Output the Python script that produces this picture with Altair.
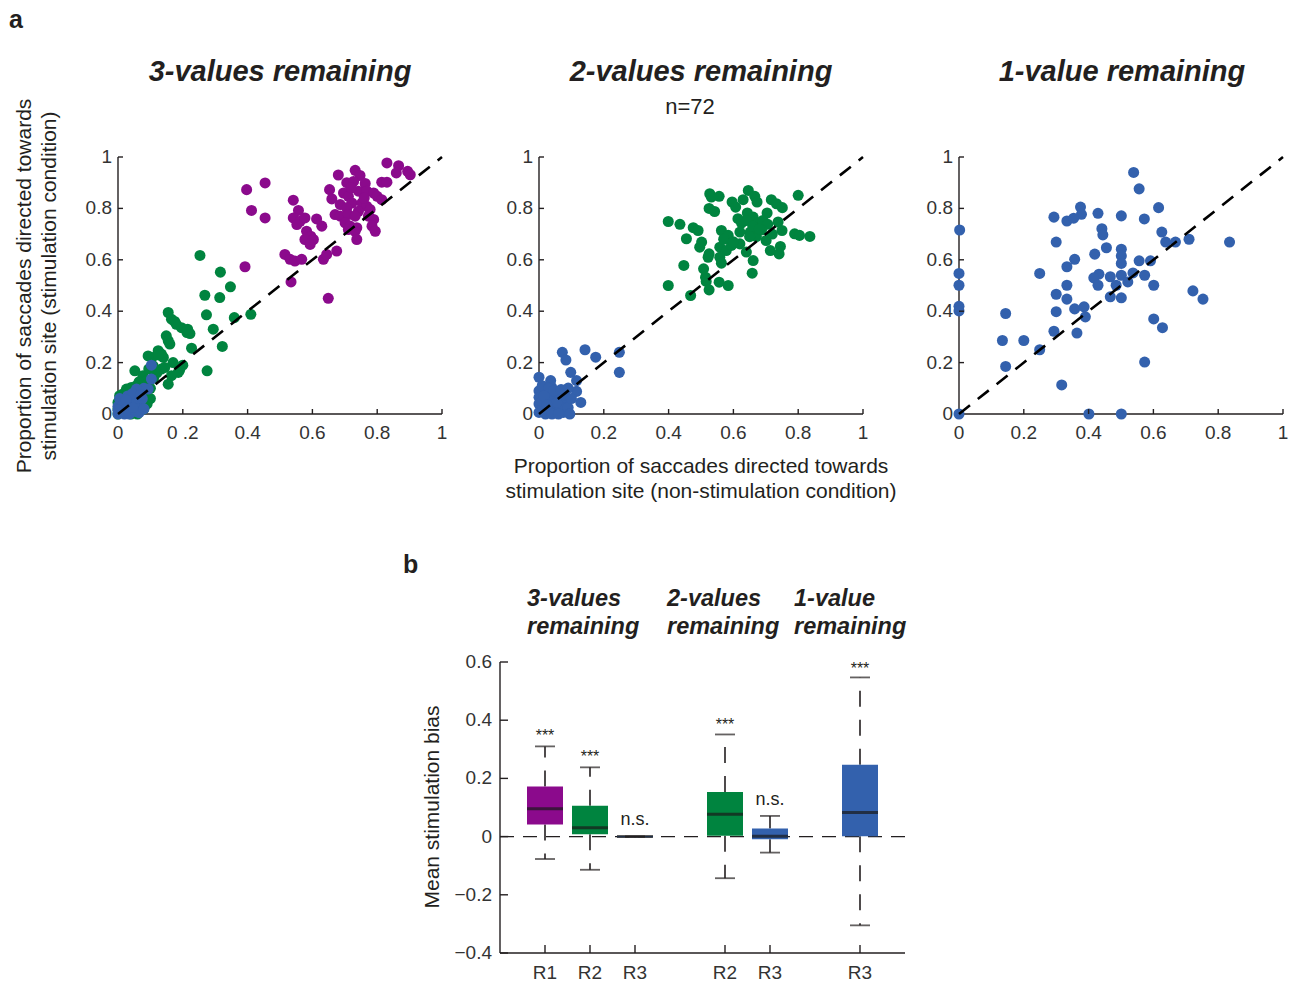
import altair as alt
import pandas as pd

FONT = "Liberation Sans"
INK = "#231F20"
LABEL = "#333333"
PURPLE = "#8B0A8C"
GREEN = "#00843F"
BLUE = "#3361AD"
W, H = 1295, 982

# ---------------- panel a data (non-stim x, stim y) ----------------
p1_purple_x = [0.830, 0.866, 0.859, 0.894, 0.902, 0.732, 0.680, 0.747, 0.706, 0.727, 0.763, 0.814, 0.830, 0.653, 0.660,
               0.696, 0.711, 0.742, 0.768, 0.789, 0.800, 0.814, 0.722, 0.753, 0.686, 0.706, 0.768, 0.742, 0.670, 0.686,
               0.711, 0.732, 0.778, 0.773, 0.789, 0.784, 0.794, 0.701, 0.716, 0.737, 0.711, 0.732, 0.737, 0.675, 0.629,
               0.613, 0.541, 0.557, 0.541, 0.562, 0.577, 0.552, 0.582, 0.595, 0.577, 0.603, 0.593, 0.515, 0.531, 0.546,
               0.567, 0.634, 0.644, 0.534, 0.649, 0.392, 0.412, 0.397, 0.454, 0.454, 0.720, 0.760]
p1_purple_y = [0.977, 0.966, 0.938, 0.944, 0.931, 0.948, 0.930, 0.928, 0.900, 0.905, 0.897, 0.902, 0.902, 0.873, 0.837,
               0.860, 0.847, 0.867, 0.867, 0.860, 0.847, 0.834, 0.821, 0.821, 0.815, 0.802, 0.808, 0.789, 0.776, 0.770,
               0.776, 0.770, 0.796, 0.770, 0.757, 0.731, 0.711, 0.744, 0.731, 0.725, 0.718, 0.711, 0.679, 0.634, 0.731,
               0.759, 0.832, 0.792, 0.763, 0.750, 0.763, 0.737, 0.711, 0.692, 0.679, 0.679, 0.660, 0.621, 0.602, 0.595,
               0.602, 0.602, 0.621, 0.514, 0.450, 0.573, 0.792, 0.873, 0.899, 0.763, 0.880, 0.840]

p1_green_x = [0.253, 0.316, 0.347, 0.268, 0.314, 0.273, 0.359, 0.410, 0.294, 0.322, 0.275, 0.155, 0.165, 0.180, 0.196,
              0.213, 0.222, 0.149, 0.155, 0.160, 0.227, 0.093, 0.124, 0.134, 0.170, 0.144, 0.186, 0.165, 0.134, 0.155,
              0.052, 0.077, 0.108, 0.041, 0.026, 0.015, 0.057, 0.005, 0.036, 0.067, 0.077, 0.090, 0.085, 0.100, 0.060,
              0.020, 0.000, 0.010, 0.030, 0.050, 0.070, 0.080, 0.060, 0.000, 0.020, 0.045, 0.110, 0.120, 0.095, 0.200,
              0.190, 0.030, 0.065, 0.140, 0.175, 0.215, 0.105, 0.125, 0.000, 0.040, 0.090, 0.100]
p1_green_y = [0.617, 0.552, 0.495, 0.462, 0.453, 0.386, 0.375, 0.388, 0.330, 0.263, 0.168, 0.395, 0.369, 0.349, 0.336,
              0.317, 0.313, 0.304, 0.285, 0.272, 0.256, 0.226, 0.246, 0.233, 0.200, 0.181, 0.162, 0.149, 0.175, 0.116,
              0.168, 0.149, 0.188, 0.103, 0.097, 0.078, 0.110, 0.071, 0.065, 0.071, 0.116, 0.130, 0.090, 0.100, 0.085,
              0.055, 0.045, 0.020, 0.010, 0.030, 0.040, 0.020, 0.000, 0.000, 0.030, 0.050, 0.140, 0.160, 0.175, 0.190,
              0.170, 0.085, 0.125, 0.220, 0.360, 0.330, 0.220, 0.230, 0.020, 0.000, 0.040, 0.060]

p1_blue_x = [0.103, 0.103, 0.093, 0.080, 0.065, 0.057, 0.050, 0.040, 0.030, 0.020, 0.010, 0.000, 0.000, 0.020, 0.040,
             0.060, 0.070, 0.050, 0.030, 0.010, 0.015, 0.065, 0.030, 0.060, 0.045, 0.025, 0.005, 0.035, 0.055, 0.075,
             0.080, 0.070, 0.015, 0.045, 0.000, 0.025]
p1_blue_y = [0.190, 0.136, 0.097, 0.100, 0.090, 0.097, 0.070, 0.060, 0.050, 0.040, 0.020, 0.000, 0.030, 0.000, 0.010,
             0.020, 0.030, 0.040, 0.030, 0.050, 0.010, 0.005, 0.070, 0.060, 0.080, 0.020, 0.060, 0.000, 0.010, 0.060,
             0.020, 0.075, 0.035, 0.025, 0.015, 0.055]

p2_green_x = [0.527, 0.532, 0.556, 0.525, 0.542, 0.646, 0.666, 0.673, 0.630, 0.596, 0.607, 0.800, 0.717, 0.733, 0.751,
              0.643, 0.661, 0.704, 0.614, 0.625, 0.640, 0.676, 0.691, 0.706, 0.738, 0.750, 0.399, 0.435, 0.476, 0.491,
              0.455, 0.502, 0.496, 0.525, 0.522, 0.563, 0.584, 0.558, 0.578, 0.594, 0.620, 0.620, 0.558, 0.563, 0.640,
              0.661, 0.652, 0.671, 0.687, 0.701, 0.714, 0.741, 0.745, 0.789, 0.804, 0.836, 0.447, 0.508, 0.514, 0.516,
              0.525, 0.399, 0.468, 0.556, 0.584, 0.658, 0.660, 0.680, 0.570, 0.600, 0.650, 0.720]
p2_green_y = [0.857, 0.844, 0.847, 0.800, 0.788, 0.870, 0.847, 0.825, 0.834, 0.825, 0.805, 0.851, 0.834, 0.818, 0.803,
              0.782, 0.766, 0.782, 0.760, 0.743, 0.753, 0.743, 0.753, 0.738, 0.747, 0.714, 0.749, 0.738, 0.725, 0.714,
              0.682, 0.669, 0.649, 0.623, 0.610, 0.714, 0.695, 0.649, 0.636, 0.656, 0.662, 0.708, 0.610, 0.587, 0.630,
              0.597, 0.708, 0.690, 0.717, 0.675, 0.636, 0.623, 0.652, 0.701, 0.695, 0.691, 0.578, 0.565, 0.532, 0.516,
              0.483, 0.500, 0.461, 0.513, 0.500, 0.548, 0.730, 0.720, 0.680, 0.670, 0.690, 0.700]

p2_blue_x = [0.072, 0.083, 0.142, 0.175, 0.248, 0.248, 0.098, 0.116, 0.116, 0.090, 0.129, 0.000, 0.036, 0.039, 0.000,
             0.000, 0.000, 0.000, 0.018, 0.024, 0.034, 0.044, 0.055, 0.075, 0.085, 0.070, 0.060, 0.013, 0.028, 0.048,
             0.065, 0.090, 0.010, 0.020, 0.040, 0.080, 0.100, 0.055, 0.030, 0.008, 0.045, 0.068, 0.015, 0.025, 0.095,
             0.060]
p2_blue_y = [0.240, 0.210, 0.250, 0.221, 0.240, 0.162, 0.162, 0.130, 0.088, 0.101, 0.045, 0.143, 0.130, 0.104, 0.090,
             0.065, 0.039, 0.006, 0.085, 0.060, 0.039, 0.019, 0.006, 0.006, 0.050, 0.058, 0.074, 0.026, 0.013, 0.065,
             0.030, 0.025, 0.110, 0.000, 0.000, 0.075, 0.060, 0.045, 0.100, 0.050, 0.090, 0.095, 0.070, 0.035, 0.000,
             0.000]

p3_blue_x = [0.539, 0.556, 0.616, 0.375, 0.378, 0.429, 0.501, 0.293, 0.333, 0.354, 0.572, 0.002, 0.441, 0.444, 0.626,
             0.638, 0.668, 0.710, 0.835, 0.300, 0.455, 0.501, 0.501, 0.501, 0.419, 0.357, 0.556, 0.591, 0.333, 0.249,
             0.000, 0.432, 0.416, 0.429, 0.467, 0.501, 0.537, 0.573, 0.485, 0.521, 0.601, 0.000, 0.333, 0.300, 0.333,
             0.467, 0.501, 0.722, 0.753, 0.000, 0.000, 0.357, 0.386, 0.300, 0.390, 0.144, 0.601, 0.628, 0.293, 0.364,
             0.134, 0.200, 0.249, 0.144, 0.573, 0.317, 0.000, 0.401, 0.501]
p3_blue_y = [0.940, 0.876, 0.803, 0.805, 0.777, 0.781, 0.771, 0.766, 0.751, 0.762, 0.759, 0.716, 0.721, 0.697, 0.708,
             0.669, 0.669, 0.680, 0.669, 0.669, 0.647, 0.641, 0.615, 0.586, 0.622, 0.602, 0.596, 0.596, 0.573, 0.547,
             0.547, 0.544, 0.530, 0.501, 0.534, 0.540, 0.549, 0.540, 0.501, 0.514, 0.501, 0.501, 0.501, 0.466, 0.447,
             0.456, 0.452, 0.479, 0.447, 0.419, 0.401, 0.409, 0.417, 0.398, 0.378, 0.391, 0.370, 0.336, 0.322, 0.315,
             0.286, 0.286, 0.250, 0.185, 0.202, 0.113, 0.000, 0.000, 0.000]

unity = [0.0, 1.0]
tick_vals = [0, 0.2, 0.4, 0.6, 0.8, 1]
tick_text = ["0", "0.2", "0.4", "0.6", "0.8", "1"]
tick_text_p1x = ["0", "0 .2", "0.4", "0.6", "0.8", "1"]

# ---------------- panel b data ----------------
slot_order = ["3v R1", "3v R2", "3v R3", "gap 1", "2v R2", "2v R3", "gap 2", "1v R3"]
box_keys = ["3v R1", "3v R2", "3v R3", "2v R2", "2v R3", "1v R3"]
box_labels = ["R1", "R2", "R3", "R2", "R3", "R3"]
box_region = ["R1", "R2", "R3", "R2", "R3", "R3"]
box_q1 = [0.042, 0.008, -0.002, 0.003, -0.009, 0.001]
box_q3 = [0.172, 0.106, 0.002, 0.153, 0.028, 0.247]
box_med = [0.096, 0.030, 0.000, 0.077, 0.001, 0.083]
box_lo = [-0.077, -0.114, 0.000, -0.143, -0.055, -0.305]
box_hi = [0.310, 0.238, 0.000, 0.351, 0.071, 0.547]
star_keys = ["3v R1", "3v R2", "2v R2", "1v R3"]
star_y = [0.360, 0.287, 0.397, 0.590]
ns_keys = ["3v R3", "2v R3"]
ns_y = [0.058, 0.127]
bias_ticks = [-0.4, -0.2, 0, 0.2, 0.4, 0.6]
bias_text = ["\u22120.4", "\u22120.2", "0", "0.2", "0.4", "0.6"]

# ---------------- geometry ----------------
Y_BOT, Y_TOP = 414, 157
PANEL_X = [(118, 442), (539, 863), (959, 1283)]
BX0, BX1, BY_BOT, BY_TOP = 500, 905, 953, 662
AX_W = 1.4
TICK_FS = 19


def scatter_panel(series, xr, xlabels):
    xs = alt.Scale(domain=[0, 1], range=list(xr), nice=False, zero=False)
    ys = alt.Scale(domain=[0, 1], range=[Y_BOT, Y_TOP], nice=False, zero=False)
    layers = []
    # axis lines
    layers.append(alt.Chart(pd.DataFrame({"a": [0.0], "b": [1.0]})).mark_rule(
        color=INK, strokeWidth=AX_W).encode(
        x=alt.X("a:Q", scale=xs, axis=None), x2="b:Q", y=alt.Y("a:Q", scale=ys, axis=None)))
    layers.append(alt.Chart(pd.DataFrame({"a": [0.0], "b": [1.0]})).mark_rule(
        color=INK, strokeWidth=AX_W).encode(
        y=alt.Y("a:Q", scale=ys, axis=None), y2="b:Q", x=alt.X("a:Q", scale=xs, axis=None)))
    for sx, sy, col in series:
        df = pd.DataFrame({"x": sx, "y": sy})
        layers.append(alt.Chart(df).mark_circle(size=122, opacity=1, color=col).encode(
            x=alt.X("x:Q", scale=xs, axis=None), y=alt.Y("y:Q", scale=ys, axis=None)))
    layers.append(alt.Chart(pd.DataFrame({"x": unity, "y": unity})).mark_line(
        color="black", strokeWidth=2.6, strokeDash=[14, 10]).encode(
        x=alt.X("x:Q", scale=xs, axis=None), y=alt.Y("y:Q", scale=ys, axis=None)))
    tdf = pd.DataFrame({"v": tick_vals[1:]})
    layers.append(alt.Chart(tdf).mark_rule(color=INK, strokeWidth=AX_W).encode(
        x=alt.X("v:Q", scale=xs, axis=None), y=alt.value(Y_BOT), y2=alt.value(Y_BOT - 5)))
    layers.append(alt.Chart(tdf).mark_rule(color=INK, strokeWidth=AX_W).encode(
        y=alt.Y("v:Q", scale=ys, axis=None), x=alt.value(xr[0]), x2=alt.value(xr[0] + 5)))
    # tick labels
    layers.append(alt.Chart(pd.DataFrame({"v": tick_vals, "t": xlabels})).mark_text(
        font=FONT, fontSize=TICK_FS, color=LABEL, baseline="top", dy=10).encode(
        x=alt.X("v:Q", scale=xs, axis=None), y=alt.value(Y_BOT), text="t:N"))
    layers.append(alt.Chart(pd.DataFrame({"v": tick_vals, "t": tick_text})).mark_text(
        font=FONT, fontSize=TICK_FS, color=LABEL, baseline="middle", align="right", dx=-6).encode(
        y=alt.Y("v:Q", scale=ys, axis=None), x=alt.value(xr[0]), text="t:N"))
    return alt.layer(*layers)


def text_mark(text, x, y, size, weight="normal", style="normal", align="center",
              baseline="alphabetic", line_height=None, angle=None, color=INK):
    kw = dict(font=FONT, fontSize=size, fontWeight=weight, fontStyle=style, align=align,
              baseline=baseline, color=color)
    if angle is not None:
        kw["angle"] = angle
    if "\n" in text:
        kw["lineBreak"] = "\n"
        kw["lineHeight"] = line_height
    return alt.Chart(pd.DataFrame({"t": [text]})).mark_text(**kw).encode(
        text="t:N", x=alt.value(x), y=alt.value(y))


s1 = scatter_panel([(p1_purple_x, p1_purple_y, PURPLE), (p1_green_x, p1_green_y, GREEN),
                    (p1_blue_x, p1_blue_y, BLUE)], PANEL_X[0], tick_text_p1x)
s2 = scatter_panel([(p2_green_x, p2_green_y, GREEN), (p2_blue_x, p2_blue_y, BLUE)], PANEL_X[1], tick_text)
s3 = scatter_panel([(p3_blue_x, p3_blue_y, BLUE)], PANEL_X[2], tick_text)

# ---------------- box panel ----------------
bx = alt.Scale(type="point", domain=slot_order, range=[BX0, BX1], padding=1)
by = alt.Scale(domain=[-0.4, 0.6], range=[BY_BOT, BY_TOP], nice=False, zero=False)
col_scale = alt.Scale(domain=["R1", "R2", "R3"], range=[PURPLE, GREEN, BLUE])
box_df = pd.DataFrame({"k": box_keys, "region": box_region, "q1": box_q1, "q3": box_q3,
                       "med": box_med, "lo": box_lo, "hi": box_hi})
XN = alt.X("k:N", scale=bx, axis=None)

b_yaxis = alt.Chart(pd.DataFrame({"a": [-0.4], "b": [0.6]})).mark_rule(color=INK, strokeWidth=AX_W).encode(
    y=alt.Y("a:Q", scale=by, axis=None), y2="b:Q", x=alt.value(BX0))
b_xaxis = alt.Chart(pd.DataFrame({"a": [-0.4]})).mark_rule(color=INK, strokeWidth=AX_W).encode(
    y=alt.Y("a:Q", scale=by, axis=None), x=alt.value(BX0), x2=alt.value(BX1))
zero_line = alt.Chart(pd.DataFrame({"z": [0.0]})).mark_rule(
    color=INK, strokeWidth=1.3, strokeDash=[14, 9]).encode(
    y=alt.Y("z:Q", scale=by, axis=None), x=alt.value(BX0), x2=alt.value(BX1))
wh_up = alt.Chart(box_df).mark_rule(color=INK, strokeWidth=1.6, strokeDash=[16, 13]).encode(
    x=XN, y=alt.Y("q3:Q", scale=by, axis=None), y2="hi:Q")
wh_dn = alt.Chart(box_df).mark_rule(color=INK, strokeWidth=1.6, strokeDash=[16, 13]).encode(
    x=XN, y=alt.Y("q1:Q", scale=by, axis=None), y2="lo:Q")
boxes = alt.Chart(box_df).mark_bar(size=36).encode(
    x=XN, y=alt.Y("q1:Q", scale=by, axis=None), y2="q3:Q",
    color=alt.Color("region:N", scale=col_scale, legend=None))
medians = alt.Chart(box_df).mark_tick(size=36, thickness=3, color="#1A1A1A").encode(
    x=XN, y=alt.Y("med:Q", scale=by, axis=None))
cap_hi = alt.Chart(box_df).mark_tick(size=20, thickness=1.8, color=INK).encode(
    x=XN, y=alt.Y("hi:Q", scale=by, axis=None))
cap_lo = alt.Chart(box_df).mark_tick(size=20, thickness=1.8, color=INK).encode(
    x=XN, y=alt.Y("lo:Q", scale=by, axis=None))
bx_ticks = alt.Chart(pd.DataFrame({"k": box_keys})).mark_rule(color=INK, strokeWidth=AX_W).encode(
    x=XN, y=alt.value(BY_BOT), y2=alt.value(BY_BOT - 8))
by_ticks = alt.Chart(pd.DataFrame({"v": bias_ticks})).mark_rule(color=INK, strokeWidth=AX_W).encode(
    y=alt.Y("v:Q", scale=by, axis=None), x=alt.value(BX0), x2=alt.value(BX0 + 8))
bx_labels = alt.Chart(pd.DataFrame({"k": box_keys, "t": box_labels})).mark_text(
    font=FONT, fontSize=TICK_FS, color=LABEL, baseline="top", dy=11).encode(
    x=XN, y=alt.value(BY_BOT), text="t:N")
by_labels = alt.Chart(pd.DataFrame({"v": bias_ticks, "t": bias_text})).mark_text(
    font=FONT, fontSize=TICK_FS, color=LABEL, baseline="middle", align="right", dx=-8).encode(
    y=alt.Y("v:Q", scale=by, axis=None), x=alt.value(BX0), text="t:N")
stars = alt.Chart(pd.DataFrame({"k": star_keys, "y": star_y, "t": ["***"] * len(star_keys)})).mark_text(
    font=FONT, fontSize=16, baseline="middle", dy=4, color=INK).encode(
    x=XN, y=alt.Y("y:Q", scale=by, axis=None), text="t:N")
ns = alt.Chart(pd.DataFrame({"k": ns_keys, "y": ns_y, "t": ["n.s."] * len(ns_keys)})).mark_text(
    font=FONT, fontSize=18, baseline="middle", color=INK).encode(
    x=XN, y=alt.Y("y:Q", scale=by, axis=None), text="t:N")

box_panel = alt.layer(zero_line, wh_up, wh_dn, boxes, medians, cap_hi, cap_lo,
                      b_yaxis, b_xaxis, bx_ticks, by_ticks, bx_labels, by_labels, stars, ns)

texts = [
    text_mark("a", 9, 28, 25, weight="bold", align="left"),
    text_mark("b", 403, 573, 25, weight="bold", align="left"),
    text_mark("3-values remaining", 280, 81, 29, weight="bold", style="italic"),
    text_mark("2-values remaining", 701, 81, 29, weight="bold", style="italic"),
    text_mark("1-value remaining", 1122, 81, 29, weight="bold", style="italic"),
    text_mark("n=72", 690, 114, 22),
    text_mark("3-values\nremaining", 527, 606, 23.5, weight="bold", style="italic", align="left", line_height=28),
    text_mark("2-values\nremaining", 667, 606, 23.5, weight="bold", style="italic", align="left", line_height=28),
    text_mark("1-value\nremaining", 794, 606, 23.5, weight="bold", style="italic", align="left", line_height=28),
    text_mark("Proportion of saccades directed towards\nstimulation site (stimulation condition)",
              25, 286, 21, align="center", baseline="middle", angle=270, line_height=25),
    text_mark("Proportion of saccades directed towards\nstimulation site (non-stimulation condition)",
              701, 467, 21, align="center", baseline="middle", line_height=25),
    text_mark("Mean stimulation bias", 433, 807, 21, align="center", baseline="middle", angle=270),
]

chart = alt.layer(s1, s2, s3, box_panel, *texts).resolve_scale(
    x="independent", y="independent").properties(
    width=W, height=H, autosize=alt.AutoSizeParams(type="none"), padding=0,
    background="white").configure_view(stroke="transparent")

chart.save("out.html", embed_options={"renderer": "svg", "actions": False})
